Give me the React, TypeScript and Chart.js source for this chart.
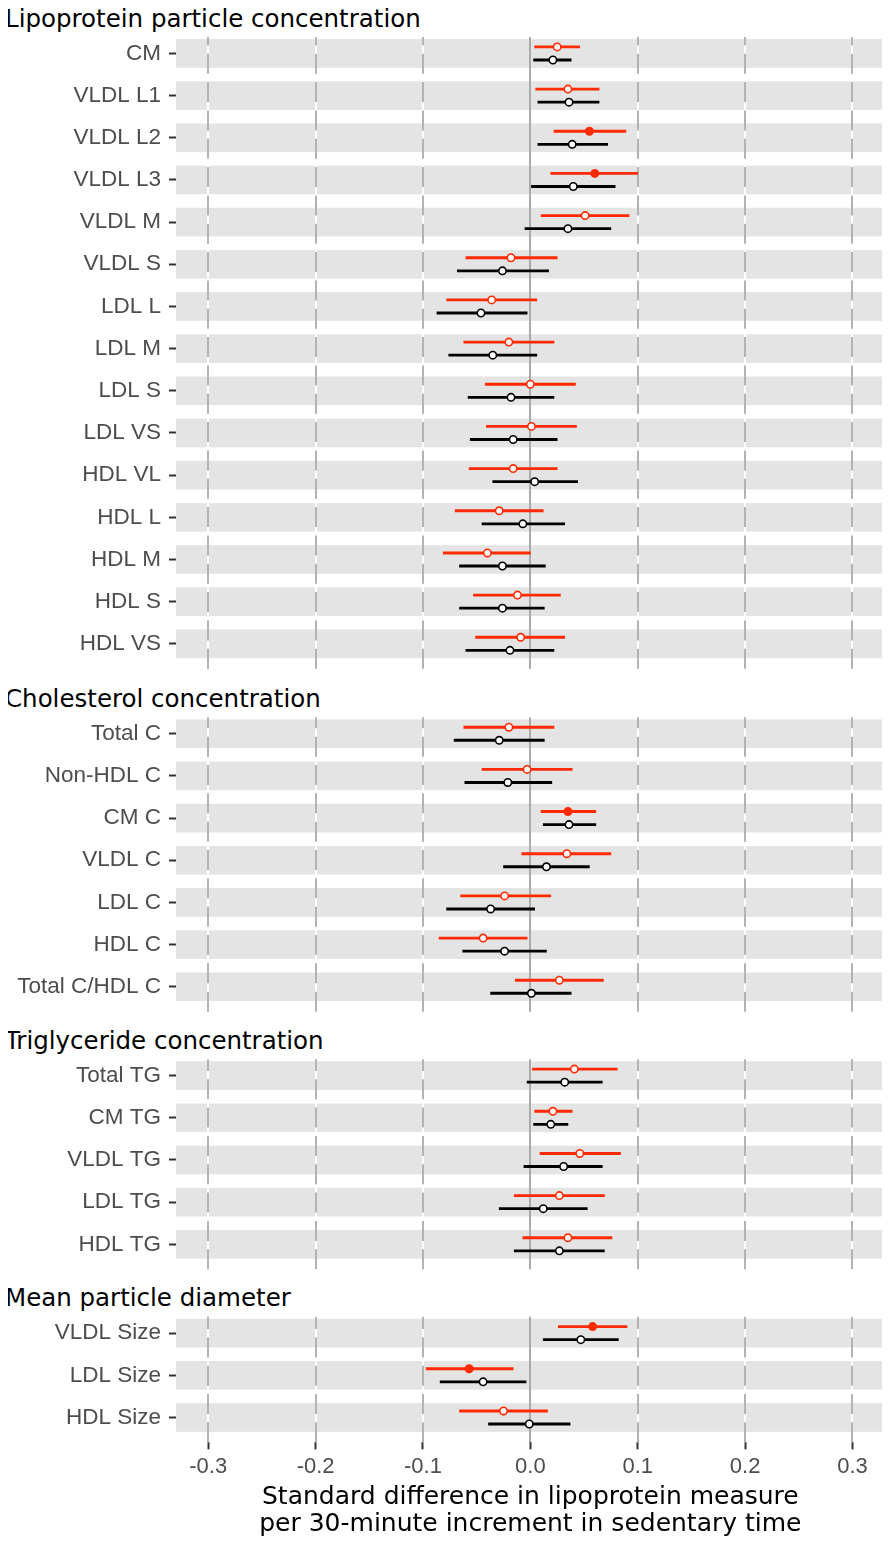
import React, { useEffect, useRef } from "react";
import { Chart, registerables } from "chart.js";

Chart.register(...registerables);

// ---------------- data ----------------
const panelTitles = [
  "Lipoprotein particle concentration",
  "Cholesterol concentration",
  "Triglyceride concentration",
  "Mean particle diameter",
];

const particleLabels = ["CM", "VLDL L1", "VLDL L2", "VLDL L3", "VLDL M", "VLDL S", "LDL L", "LDL M", "LDL S", "LDL VS", "HDL VL", "HDL L", "HDL M", "HDL S", "HDL VS"];
const cholesterolLabels = ["Total C", "Non-HDL C", "CM C", "VLDL C", "LDL C", "HDL C", "Total C/HDL C"];
const triglycerideLabels = ["Total TG", "CM TG", "VLDL TG", "LDL TG", "HDL TG"];
const diameterLabels = ["VLDL Size", "LDL Size", "HDL Size"];
const panelLabels = [particleLabels, cholesterolLabels, triglycerideLabels, diameterLabels];

// red series (upper of each pair)
const redEstimate = [
  0.025, 0.035, 0.055, 0.060, 0.051, -0.018, -0.036, -0.020, 0.000, 0.001, -0.016, -0.029, -0.040, -0.012, -0.009,
  -0.020, -0.003, 0.035, 0.034, -0.024, -0.044, 0.027,
  0.041, 0.021, 0.046, 0.027, 0.035,
  0.058, -0.057, -0.025,
];
const redLower = [
  0.004, 0.005, 0.022, 0.019, 0.010, -0.060, -0.078, -0.062, -0.042, -0.041, -0.057, -0.070, -0.081, -0.053, -0.051,
  -0.062, -0.045, 0.010, -0.008, -0.065, -0.085, -0.014,
  0.002, 0.004, 0.009, -0.015, -0.007,
  0.026, -0.097, -0.066,
];
const redUpper = [
  0.046, 0.064, 0.089, 0.100, 0.092, 0.025, 0.006, 0.022, 0.042, 0.043, 0.025, 0.012, 0.000, 0.028, 0.032,
  0.022, 0.039, 0.061, 0.075, 0.019, -0.003, 0.068,
  0.081, 0.039, 0.084, 0.069, 0.076,
  0.090, -0.016, 0.016,
];
const redSignificant = [
  false, false, true, true, false, false, false, false, false, false, false, false, false, false, false,
  false, false, true, false, false, false, false,
  false, false, false, false, false,
  true, true, false,
];

// black series (lower of each pair)
const blackEstimate = [
  0.021, 0.036, 0.039, 0.040, 0.035, -0.026, -0.046, -0.035, -0.018, -0.016, 0.004, -0.007, -0.026, -0.026, -0.019,
  -0.029, -0.021, 0.036, 0.015, -0.037, -0.024, 0.001,
  0.032, 0.019, 0.031, 0.012, 0.027,
  0.047, -0.044, -0.001,
];
const blackLower = [
  0.003, 0.007, 0.007, 0.001, -0.005, -0.068, -0.087, -0.076, -0.058, -0.056, -0.035, -0.045, -0.066, -0.066, -0.060,
  -0.071, -0.061, 0.012, -0.025, -0.078, -0.063, -0.037,
  -0.003, 0.003, -0.006, -0.029, -0.015,
  0.012, -0.084, -0.039,
];
const blackUpper = [
  0.038, 0.064, 0.072, 0.079, 0.075, 0.017, -0.003, 0.006, 0.022, 0.025, 0.044, 0.032, 0.014, 0.013, 0.022,
  0.013, 0.020, 0.061, 0.055, 0.004, 0.015, 0.038,
  0.067, 0.035, 0.067, 0.053, 0.069,
  0.082, -0.004, 0.037,
];

const xTickValues = [-0.3, -0.2, -0.1, 0, 0.1, 0.2, 0.3];
const xMin = -0.33;
const xMax = 0.33;
const axisTitleLines = [
  "Standard difference in lipoprotein measure",
  "per 30-minute increment in sedentary time",
];

// ---------------- layout / style ----------------
const PAGE_MARGIN = 8;
const PAGE_W = 890;
const PAGE_H = 1544;
const PLOT_LEFT = 176;
const PLOT_RIGHT = 888;
const ROW = 42.17;
const TOP_EXPAND = 0.39;
const BOTTOM_EXPAND = 0.59;
const PANEL_TOPS = [37, 717.3, 1059.2, 1316.7];
const CANVAS_PAD = 26;
const BAND_HALF = 0.34;
const DODGE = 0.155;
const AXIS_TITLE_LH = 27;
const AXIS_TITLE_CENTER1 = 1497.5; // page y of first title line centre

const RED = "#ff2a00";
const BLACK = "#000000";
const BAND = "#e4e4e4";
const DASH = "#b3b3b3";
const ZERO = "#aaaaaa";
const LABEL_COLOR = "#4d4d4d";
const TICK_COLOR = "#333333";
const SANS = '"Liberation Sans", Arial, Helvetica, sans-serif';
const TITLE_FONT = '"DejaVu Sans", "Liberation Sans", sans-serif';
const TITLE_FS = 24.5;
const AXIS_TITLE_FS = 25;

function Panel({ p }: { p: number }) {
  const ref = useRef<HTMLCanvasElement | null>(null);
  const n = panelLabels[p].length;
  const isLast = p === panelLabels.length - 1;
  const plotH = (n - 1 + TOP_EXPAND + BOTTOM_EXPAND) * ROW;
  const panelTop = PANEL_TOPS[p];
  const canvasTop = Math.floor(panelTop) - CANVAS_PAD;
  const padTop = panelTop - canvasTop;
  const canvasH = isLast ? PAGE_H - canvasTop : Math.ceil(padTop + plotH + CANVAS_PAD);
  const xAxisH = isLast ? canvasH - padTop - plotH : 0;
  const padBottom = isLast ? 0 : canvasH - padTop - plotH;

  useEffect(() => {
    const labels = panelLabels[p];
    const start = panelLabels.slice(0, p).reduce((a, l) => a + l.length, 0);
    const idx = labels.map((_, i) => start + i);

    const backdrop = {
      id: "backdrop",
      beforeDatasetsDraw(chart: any) {
        const { ctx, chartArea: a, scales } = chart;
        const x = scales.x;
        const y = scales.y;
        ctx.save();
        ctx.fillStyle = BAND;
        for (let i = 0; i < n; i++) {
          const t = y.getPixelForValue(i - BAND_HALF);
          const b = y.getPixelForValue(i + BAND_HALF);
          ctx.fillRect(a.left, t, a.right - a.left, b - t);
        }
        ctx.lineWidth = 2;
        for (const v of xTickValues) {
          const px = Math.round(x.getPixelForValue(v));
          if (Math.abs(v) < 1e-9) {
            ctx.setLineDash([]);
            ctx.strokeStyle = ZERO;
            ctx.beginPath();
            ctx.moveTo(px, a.bottom);
            ctx.lineTo(px, a.top);
            ctx.stroke();
            continue;
          }
          ctx.setLineDash([]);
          ctx.strokeStyle = "#ffffff";
          ctx.beginPath();
          ctx.moveTo(px, a.bottom);
          ctx.lineTo(px, a.top);
          ctx.stroke();
          ctx.setLineDash([20, 8.33]);
          ctx.strokeStyle = DASH;
          ctx.beginPath();
          ctx.moveTo(px, a.bottom);
          ctx.lineTo(px, a.top);
          ctx.stroke();
        }
        ctx.restore();
      },
    };

    const pointSet = (est: number[], color: string, filled: boolean[] | null, off: number) => ({
      type: "scatter" as const,
      data: idx.map((k, i) => ({ x: est[k], y: i + off })),
      pointRadius: 3.7,
      pointHoverRadius: 3.7,
      pointBorderWidth: 1.6,
      pointBorderColor: color,
      pointBackgroundColor: idx.map((k) => (filled && filled[k] ? color : "#ffffff")),
      showLine: false,
      order: 1,
    });
    const barSet = (lo: number[], hi: number[], color: string, off: number) => ({
      type: "bar" as const,
      indexAxis: "y" as const,
      data: idx.map((k, i) => ({ x: [lo[k], hi[k]], y: i + off })),
      backgroundColor: color,
      borderWidth: 0,
      grouped: false,
      maxBarThickness: 2.2,
      barPercentage: 1,
      categoryPercentage: 1,
      order: 2,
    });

    const tickGrid = {
      offset: false,
      drawOnChartArea: false,
      drawTicks: true,
      tickLength: 7,
      tickColor: TICK_COLOR,
      tickWidth: 2,
      color: TICK_COLOR,
    };

    // axis title position: Chart.js places line centres at bottom - (lh/2 + padBottom + lh*(lines-1))
    const titlePadBottom = PAGE_H - AXIS_TITLE_CENTER1 - AXIS_TITLE_LH / 2 - AXIS_TITLE_LH * (axisTitleLines.length - 1);

    const chart = new Chart(ref.current as HTMLCanvasElement, {
      type: "scatter",
      data: {
        datasets: [
          pointSet(redEstimate, RED, redSignificant, -DODGE),
          pointSet(blackEstimate, BLACK, null, DODGE),
          barSet(redLower, redUpper, RED, -DODGE),
          barSet(blackLower, blackUpper, BLACK, DODGE),
        ] as any,
      },
      options: {
        animation: false,
        responsive: false,
        events: [],
        layout: { padding: { top: padTop, bottom: padBottom, left: 0, right: PAGE_W - PLOT_RIGHT } },
        plugins: { legend: { display: false }, tooltip: { enabled: false } },
        scales: {
          x: {
            type: "linear",
            min: xMin,
            max: xMax,
            offset: false,
            grace: 0,
            display: isLast,
            position: "bottom",
            bounds: "data",
            afterBuildTicks: (s: any) => {
              s.ticks = xTickValues.map((v) => ({ value: v }));
            },
            afterFit: (s: any) => {
              if (isLast) s.height = xAxisH;
            },
            grid: tickGrid,
            border: { display: false },
            title: {
              display: isLast,
              text: axisTitleLines,
              color: "#000000",
              font: { family: TITLE_FONT, size: AXIS_TITLE_FS, lineHeight: AXIS_TITLE_LH / AXIS_TITLE_FS },
              padding: { top: 0, bottom: titlePadBottom },
            },
            ticks: {
              autoSkip: false,
              maxRotation: 0,
              padding: 4,
              color: LABEL_COLOR,
              font: { family: SANS, size: 22 },
              callback: (v: any) => Number(v).toFixed(1),
            },
          },
          y: {
            type: "linear",
            reverse: true,
            min: -TOP_EXPAND,
            max: n - 1 + BOTTOM_EXPAND,
            offset: false,
            grace: 0,
            bounds: "data",
            afterBuildTicks: (s: any) => {
              s.ticks = labels.map((_, i) => ({ value: i }));
            },
            afterFit: (s: any) => {
              s.width = PLOT_LEFT;
            },
            grid: tickGrid,
            border: { display: false },
            ticks: {
              autoSkip: false,
              padding: 8,
              color: LABEL_COLOR,
              font: { family: SANS, size: 22.5 },
              callback: (v: any) => labels[Math.round(Number(v))] ?? "",
            },
          },
        },
      } as any,
      plugins: [backdrop],
    });
    return () => chart.destroy();
  }, [p]);

  return (
    <canvas
      ref={ref}
      width={PAGE_W}
      height={canvasH}
      style={{ position: "absolute", left: -PAGE_MARGIN, top: canvasTop - PAGE_MARGIN, width: PAGE_W, height: canvasH }}
    />
  );
}

export default function App() {
  return (
    <div style={{ position: "relative", width: PAGE_W - 2 * PAGE_MARGIN, height: PAGE_H - 2 * PAGE_MARGIN }}>
      {panelTitles.map((t, p) => (
        <div
          key={"t" + p}
          style={{
            position: "absolute",
            left: 5 - PAGE_MARGIN,
            top: PANEL_TOPS[p] - 9.6 - 0.846 * TITLE_FS - PAGE_MARGIN,
            fontFamily: TITLE_FONT,
            fontSize: TITLE_FS,
            lineHeight: `${TITLE_FS}px`,
            color: "#000",
            whiteSpace: "nowrap",
          }}
        >
          {t}
        </div>
      ))}
      {panelTitles.map((_, p) => (
        <Panel key={"p" + p} p={p} />
      ))}
    </div>
  );
}
